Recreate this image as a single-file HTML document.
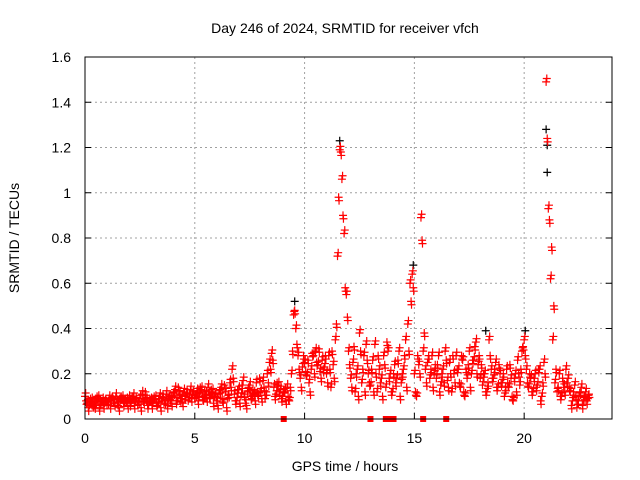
<!DOCTYPE html>
<html><head><meta charset="utf-8"><style>
body{margin:0;background:#fff}
svg{display:block;font-family:"Liberation Sans",sans-serif}
</style></head><body>
<svg id="chart" width="640" height="480" viewBox="0 0 640 480">
<rect width="640" height="480" fill="#fff"/>
<g id="grid"></g>
<g id="marks"></g>
<rect x="85" y="57" width="527" height="362" fill="none" stroke="#000" stroke-width="1"/>
<g id="ticks"></g>
<text x="345" y="33" font-size="14" text-anchor="middle">Day 246 of 2024, SRMTID for receiver vfch</text>
<text x="345" y="471" font-size="14" text-anchor="middle">GPS time / hours</text>
<text transform="translate(19,238) rotate(-90)" font-size="14" text-anchor="middle">SRMTID / TECUs</text>
</svg>
<script>
const xTicks=[0,5,10,15,20];
const yTicks=[0,0.2,0.4,0.6,0.8,1,1.2,1.4,1.6];
const yTickLabels=["0","0.2","0.4","0.6","0.8","1","1.2","1.4","1.6"];
const seriesA=[.10,.07,.06,.08,.05,.07,.09,.06,.08,.07,
.06,.09,.08,.07,.10,.06,.08,.09,.07,.08,
.09,.07,.10,.08,.06,.09,.11,.07,.08,.06,
.08,.07,.09,.06,.10,.08,.07,.11,.09,.08,
.10,.13,.08,.11,.09,.12,.10,.08,.13,.11,
.09,.12,.10,.13,.08,.11,.14,.09,.12,.10,
.08,.11,.14,.07,.12,.09,.16,.22,.11,.08,
.13,.10,.17,.07,.12,.15,.09,.11,.16,.10,
.12,.17,.09,.20,.25,.29,.14,.11,.15,.13,
.10,.12,.14,.08,.20,.46,.40,.28,.18,.23,
.25,.19,.16,.22,.28,.30,.24,.21,.26,.23,
.20,.28,.14,.24,.35,.72,1.19,1.06,.82,.55,
.30,.18,.25,.12,.22,.38,.16,.28,.33,.20,
.15,.26,.33,.12,.22,.18,.28,.14,.30,.20,
.12,.24,.18,.30,.16,.22,.35,.42,.60,.64,
.20,.10,.24,.89,.30,.22,.25,.18,.28,.20,
.18,.28,.15,.22,.30,.17,.25,.12,.20,.28,
.22,.14,.26,.10,.18,.30,.20,.26,.34,.24,
.18,.15,.20,.12,.35,.22,.18,.25,.14,.20,
.16,.10,.22,.14,.18,.08,.20,.26,.15,.30,
.35,.22,.14,.18,.12,.20,.15,.22,.10,.25,
1.49,.93,.62,.35,.16,.12,.20,.10,.14,.22,
.18,.12,.08,.15,.05,.10,.14,.08,.12,.09];
const seriesB=[.08,.05,.09,.07,.06,.10,.05,.08,.06,.09,
.08,.06,.10,.07,.09,.05,.10,.07,.09,.06,
.07,.10,.06,.09,.08,.05,.09,.12,.06,.09,
.06,.10,.07,.09,.05,.11,.08,.06,.10,.07,
.12,.08,.14,.09,.07,.10,.13,.11,.09,.12,
.11,.08,.14,.10,.12,.09,.11,.13,.07,.11,
.06,.13,.09,.15,.05,.11,.14,.18,.08,.13,
.07,.15,.11,.06,.14,.10,.13,.08,.12,.18,
.09,.14,.12,.16,.22,.26,.10,.16,.12,.09,
.13,.08,.10,.14,.30,.48,.33,.22,.14,.28,
.21,.26,.12,.29,.20,.25,.31,.18,.22,.28,
.16,.22,.30,.18,.42,.98,1.18,.90,.58,.45,
.24,.14,.32,.20,.10,.30,.22,.12,.26,.16,
.22,.12,.20,.28,.16,.10,.24,.34,.18,.12,
.20,.16,.26,.10,.20,.28,.14,.30,.52,.58,
.12,.28,.20,.79,.38,.16,.28,.22,.14,.24,
.24,.12,.20,.16,.26,.14,.20,.28,.16,.22,
.16,.28,.12,.22,.24,.14,.26,.32,.20,.28,
.24,.20,.12,.16,.28,.18,.22,.14,.24,.16,
.20,.14,.16,.24,.10,.18,.12,.20,.22,.32,
.28,.16,.20,.12,.18,.14,.22,.08,.16,.20,
1.24,.88,.76,.50,.22,.14,.10,.18,.12,.16,
.14,.06,.12,.10,.08,.12,.06,.10,.08,.11];
const blackTimes=[9.5,11.55,14.9,18.2,20.0,20.95,21.0,21.0];
const blackValues=[0.49,1.2,0.65,0.36,0.36,1.25,1.18,1.06];
const flagTimes=[9.05,13.0,13.7,13.85,14.05,15.4,16.45];
const stepA=0.1, offsetB=0.05;

const X0=85,X1=612,Y0=419,Y1=57,XMAX=24,YMAX=1.6;
function sx(v){return X0+(X1-X0)*v/XMAX;}
function sy(v){return Y0-(Y0-Y1)*v/YMAX;}
const NS="http://www.w3.org/2000/svg";
const grid=document.getElementById('grid'),ticks=document.getElementById('ticks'),marks=document.getElementById('marks');
function mk(tag,attrs,parent){const e=document.createElementNS(NS,tag);for(const k in attrs)e.setAttribute(k,attrs[k]);parent.appendChild(e);return e;}
xTicks.forEach((t,i)=>{
  const x=sx(t);
  if(t>0){const g=mk('line',{x1:x,x2:x,y1:Y1,y2:Y0,stroke:'#a0a0a0','stroke-dasharray':'2,3'},grid);
  
  }
  const tl=mk('line',{x1:x,x2:x,y1:Y0,y2:Y0-6,stroke:'#000'},ticks);
  
  
  const tt=mk('text',{x:x,y:Y0+24,'font-size':14,'text-anchor':'middle'},ticks);tt.textContent=String(t);
  
  
});
yTicks.forEach((t,i)=>{
  const y=sy(t);
  if(t>0&&t<YMAX){const g=mk('line',{x1:X0,x2:X1,y1:y,y2:y,stroke:'#a0a0a0','stroke-dasharray':'2,3'},grid);
  
  }
  const tl=mk('line',{x1:X0,x2:X0+6,y1:y,y2:y,stroke:'#000'},ticks);
  
  
  const tr=mk('line',{x1:X1,x2:X1-6,y1:y,y2:y,stroke:'#000'},ticks);
  
  
  const tt=mk('text',{x:X0-14,y:y+5,'font-size':14,'text-anchor':'end'},ticks);tt.textContent=yTickLabels[i];
  
  
});
function plus(t,v,color,name){
  const x=sx(t),y=sy(v);
  const p=mk('path',{d:`M${x-4},${y}h8M${x},${y-4}v8`,stroke:color,'stroke-width':1.2,fill:'none'},marks);
  
  
}
blackValues.forEach((v,i)=>plus(blackTimes[i]+0.05,v+0.03,'#000','black-point'));
seriesA.forEach((v,i)=>{plus(i*stepA,v,'#f00','red-point');plus(i*stepA+0.03,v+0.015,'#f00','red-point');});
seriesB.forEach((v,i)=>{plus(i*stepA+offsetB,v,'#f00','red-point');plus(i*stepA+offsetB+0.02,v-0.015,'#f00','red-point');});
flagTimes.forEach(t=>{
  const r=mk('rect',{x:sx(t)-3,y:sy(0)-3,width:6,height:6,fill:'#f00'},marks);
  
  
});
</script>
</body></html>
